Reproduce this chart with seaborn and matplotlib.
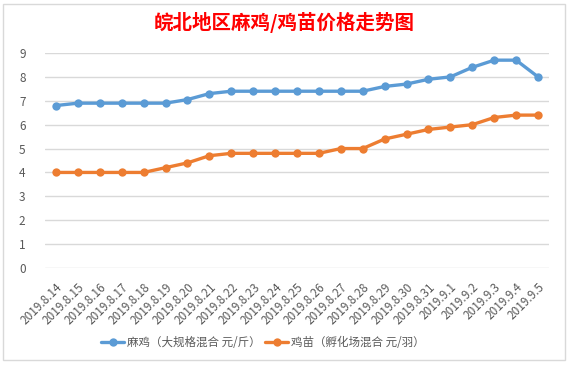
import pandas as pd
import matplotlib
matplotlib.use("Agg")
import matplotlib.pyplot as plt
import seaborn as sns
from matplotlib.patches import Rectangle


# dates on the x axis
dates = [
    "2019.8.14", "2019.8.15", "2019.8.16", "2019.8.17", "2019.8.18",
    "2019.8.19", "2019.8.20", "2019.8.21", "2019.8.22", "2019.8.23",
    "2019.8.24", "2019.8.25", "2019.8.26", "2019.8.27", "2019.8.28",
    "2019.8.29", "2019.8.30", "2019.8.31", "2019.9.1", "2019.9.2",
    "2019.9.3", "2019.9.4", "2019.9.5",
]

# 麻鸡 price (yuan / jin)
maji = [6.8, 6.9, 6.9, 6.9, 6.9, 6.9, 7.05, 7.3, 7.4, 7.4, 7.4, 7.4,
        7.4, 7.4, 7.4, 7.6, 7.7, 7.9, 8.0, 8.4, 8.7, 8.7, 8.0]

# 鸡苗 price (yuan / chick)
jimiao = [4.0, 4.0, 4.0, 4.0, 4.0, 4.2, 4.4, 4.7, 4.8, 4.8, 4.8, 4.8,
          4.8, 5.0, 5.0, 5.4, 5.6, 5.8, 5.9, 6.0, 6.3, 6.4, 6.4]

series_names = ["麻鸡（大规格混合 元/斤）", "鸡苗（孵化场混合 元/羽）"]
colors = ["#5b9bd5", "#ed7d31"]
title = "皖北地区麻鸡/鸡苗价格走势图"

sns.set_style("white")
plt.rcParams["font.family"] = ["Noto Sans CJK SC", "DejaVu Sans"]

df = pd.DataFrame({
    "date": dates * 2,
    "pos": list(range(len(dates))) * 2,
    "price": maji + jimiao,
    "series": [series_names[0]] * len(dates) + [series_names[1]] * len(dates),
})

fig = plt.figure(figsize=(5.69, 3.66), dpi=100)
ax = fig.add_axes([45 / 569, (366 - 268) / 366, 504 / 569, 215 / 366])

sns.lineplot(
    data=df, x="pos", y="price", hue="series", palette=colors,
    marker="o", markersize=6, markeredgewidth=0, linewidth=2.4,
    ax=ax, legend=False,
)

ax.set_xlim(-0.5, len(dates) - 0.5)
ax.set_ylim(0, 9)
ax.set_yticks(range(0, 10))
ax.set_xticks(range(len(dates)))
ax.set_xticklabels(dates, rotation=45, ha="right", rotation_mode="anchor")
ax.tick_params(axis="both", length=0, labelsize=8.5, colors="#595959")
ax.tick_params(axis="x", pad=9)
ax.tick_params(axis="y", pad=14)
ax.set_xlabel("")
ax.set_ylabel("")
ax.grid(axis="y", color="#d9d9d9", linewidth=1)
ax.set_axisbelow(True)
for s in ax.spines.values():
    s.set_visible(False)

# legend at the bottom
handles = [
    plt.Line2D([], [], color=c, linewidth=2.4, marker="o", markersize=6,
               markeredgewidth=0)
    for c in colors
]
fig.legend(handles, series_names, loc="center", ncol=2,
           bbox_to_anchor=(0.462, (366 - 343) / 366), frameon=False,
           fontsize=8.3, labelcolor="#595959", handlelength=2.0,
           columnspacing=0.4, handletextpad=0.25)

fig.text(0.5, (366 - 22) / 366, title, color="#ff0000", fontsize=14,
         fontweight="bold", ha="center", va="center")

# chart frame
fig.patches.append(Rectangle((3 / 569, 6 / 366), 562 / 569, 356 / 366,
                             transform=fig.transFigure, fill=False,
                             edgecolor="#d9d9d9", linewidth=1))

fig.savefig("out.png", dpi=100)
